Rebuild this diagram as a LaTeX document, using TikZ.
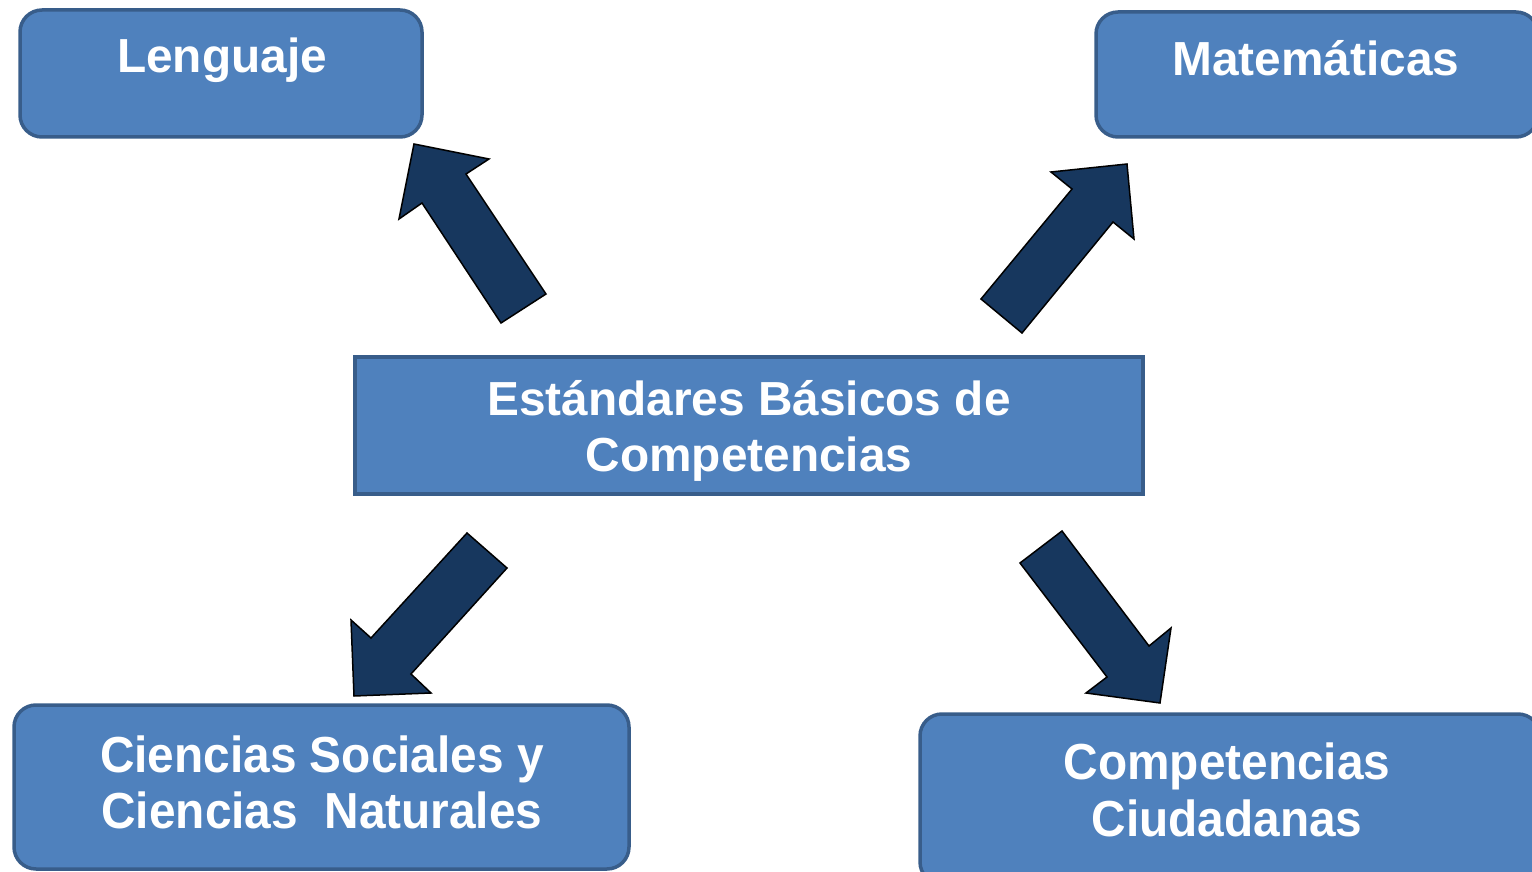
\documentclass[tikz,border=0pt]{standalone}
\usepackage{fontspec}
\setmainfont{Liberation Sans}
\definecolor{boxfill}{HTML}{4F81BD}
\definecolor{boxline}{HTML}{385D8A}
\definecolor{arrowfill}{HTML}{17375E}
\tikzset{
  rbox/.style={draw=boxline, fill=boxfill, line width=3.5pt, rounded corners=22pt, anchor=north west, inner sep=0pt, outer sep=0pt},
  sbox/.style={draw=boxline, fill=boxfill, line width=4pt, anchor=north west, inner sep=0pt, outer sep=0pt},
  lbl/.style={text=white, font=\fontsize{47.8}{57}\selectfont\bfseries, anchor=base, inner sep=0pt},
  blockarrow/.style={fill=arrowfill, draw=black, line width=1.5pt, line join=miter}
}
\begin{document}
\begin{tikzpicture}[x=1pt,y=-1pt]
\useasboundingbox (0,0) rectangle (1532,872);
\clip (0,0) rectangle (1532,872);
% boxes
\node[rbox, minimum width=402pt, minimum height=127pt] (leng) at (20,10) {};
\node[rbox, minimum width=442pt, minimum height=125pt] (mate) at (1096,12) {};
\node[sbox, minimum width=788pt, minimum height=137pt] (center) at (355,357) {};
\node[rbox, minimum width=615pt, minimum height=164pt] (cien) at (14,705) {};
\node[rbox, minimum width=620pt, minimum height=170pt] (comp) at (920,714) {};
% labels
\node[lbl] (tleng) at (222,73) {Lenguaje};
\node[lbl] (tmate) at (1316,76) {Matemáticas};
\node[lbl] (tc1) at (749,415) {Estándares Básicos de};
\node[lbl] (tc2) at (749,471) {Competencias};
\node[lbl] (tci1) at (322,772) {\scalebox{1}[1.06]{Ciencias Sociales y}};
\node[lbl] (tci2) at (322,828) {\scalebox{1}[1.06]{Ciencias\ \ Naturales}};
\node[lbl] (tco1) at (1227,779) {\scalebox{1}[1.06]{Competencias}};
\node[lbl] (tco2) at (1227,836) {\scalebox{1}[1.06]{Ciudadanas}};
% block arrows
\draw[blockarrow] (501,323) -- (546,294) -- (466,174) -- (489,159) -- (414,144) -- (399,219) -- (422,203) -- cycle;
\draw[blockarrow] (981,299) -- (1022,333) -- (1113,222) -- (1134,239) -- (1127,164) -- (1051,172) -- (1072,189) -- cycle;
\draw[blockarrow] (467,533) -- (507,568) -- (411,674) -- (431,693) -- (354,696) -- (351,620) -- (371,638) -- cycle;
\draw[blockarrow] (1062,531) -- (1020,563) -- (1107,677) -- (1086,693) -- (1160,703) -- (1171,628) -- (1149,646) -- cycle;
\end{tikzpicture}
\end{document}
